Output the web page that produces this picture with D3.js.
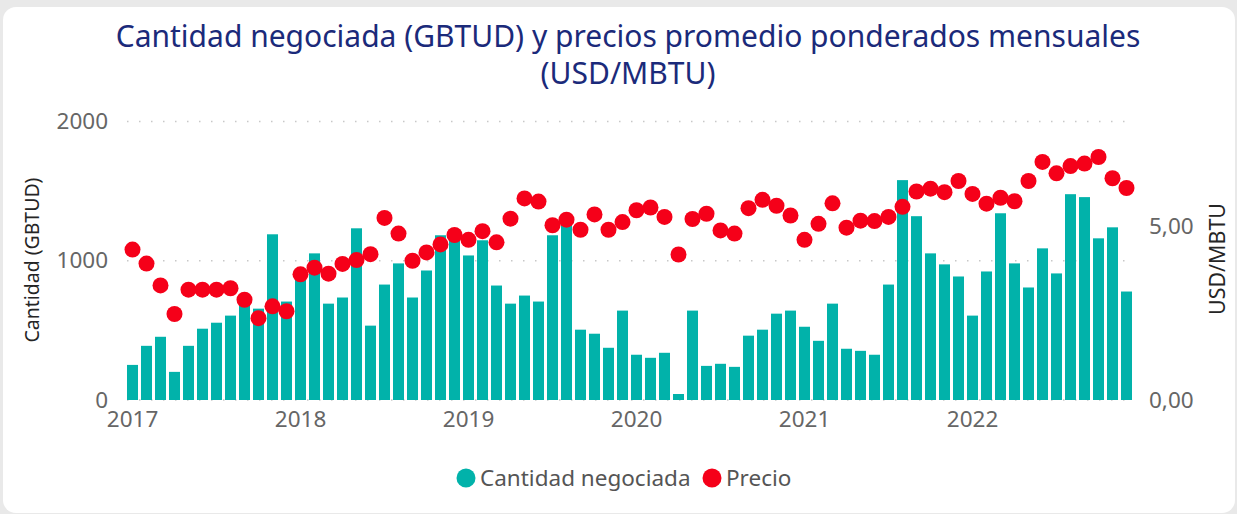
<!DOCTYPE html>
<html>
<head>
<meta charset="utf-8">
<script src="https://cdn.jsdelivr.net/npm/d3@7"></script>
<style>
  html, body { margin: 0; padding: 0; background: #e9e9e9; }
  svg { display: block; font-family: "Segoe UI", "Noto Sans", sans-serif; }
</style>
</head>
<body>
<svg id="chart" width="1237" height="514"></svg>
<script>
// categories
const years = [2017, 2018, 2019, 2020, 2021, 2022];
const monthsPerYear = 12;

// Cantidad negociada (GBTUD), one value per month
const cantidad = [
  252, 389, 454, 202, 389, 512, 555, 606, 690, 656, 1190, 707,
  882, 1053, 692, 736, 1233, 534, 829, 981, 736, 930, 1183, 1165,
  1038, 1147, 822, 692, 750, 707, 1183, 1275, 505, 476, 375, 642,
  325, 303, 339, 43, 642, 245, 260, 238, 462, 505, 620, 642,
  526, 425, 692, 368, 353, 325, 829, 1579, 1320, 1053, 974, 887,
  606, 923, 1341, 981, 808, 1089, 909, 1478, 1457, 1161, 1240, 779
];

// Precio (USD/MBTU)
const precio = [
  4.32, 3.92, 3.29, 2.47, 3.17, 3.17, 3.17, 3.21, 2.88, 2.35, 2.69, 2.55,
  3.61, 3.80, 3.63, 3.91, 4.02, 4.19, 5.23, 4.78, 4.00, 4.24, 4.47, 4.74,
  4.60, 4.85, 4.53, 5.21, 5.79, 5.70, 5.02, 5.18, 4.89, 5.33, 4.89, 5.11,
  5.45, 5.53, 5.26, 4.18, 5.20, 5.35, 4.87, 4.78, 5.51, 5.75, 5.58, 5.30,
  4.60, 5.06, 5.65, 4.95, 5.15, 5.14, 5.26, 5.55, 5.99, 6.07, 5.97, 6.29,
  5.92, 5.64, 5.81, 5.71, 6.29, 6.84, 6.51, 6.72, 6.79, 6.98, 6.37, 6.09
];

const leftTicks = [0, 1000, 2000];
const rightTicks = [0, 5];
const legendItems = ["Cantidad negociada", "Precio"];

const teal = "#01b2aa";
const red = "#f50019";
const tickFont = 22.5;

// month keys like "2017-1"
const months = [];
years.forEach(y => { for (let m = 1; m <= monthsPerYear; m++) months.push(y + "-" + m); });

const svg = d3.select("#chart");

// shrink/grow a text's font so it spans the width seen in the picture
function fitWidth(sel, target) {
  const fs = +sel.attr("font-size");
  const len = sel.node().getComputedTextLength();
  sel.attr("font-size", fs * target / len);
}

// card
svg.append("rect")
  .attr("x", 3).attr("y", 7).attr("width", 1232).attr("height", 506)
  .attr("rx", 13).attr("fill", "#fff");

// title
const title = svg.append("text")
  .attr("text-anchor", "middle").attr("fill", "#1b2a7a").attr("font-size", 30);
title.append("tspan").attr("x", 628).attr("y", 47)
  .text("Cantidad negociada (GBTUD) y precios promedio ponderados mensuales");
title.append("tspan").attr("x", 628).attr("y", 84).text("(USD/MBTU)");
const w = title.select("tspan").node().getComputedTextLength();
title.attr("font-size", 30 * 1025 / w);

// scales
const x = d3.scaleBand().domain(months).range([125.5, 1133.5])
  .paddingInner(0.214).paddingOuter(0.107);
const yL = d3.scaleLinear().domain([0, 2000]).range([400, 121.5]);
const yR = d3.scaleLinear().domain([0, 8]).range([400, 121.5]);

// gridlines
svg.append("g").selectAll("line").data(leftTicks).join("line")
  .attr("x1", 127).attr("x2", 1128)
  .attr("y1", d => yL(d)).attr("y2", d => yL(d))
  .attr("stroke", "#c8c8c8").attr("stroke-width", 1.5)
  .attr("stroke-dasharray", "1.5,10.5");

// left axis
const axL = svg.append("g").attr("transform", "translate(108,0)")
  .call(d3.axisLeft(yL).tickValues(leftTicks).tickSize(0).tickPadding(0).tickFormat(d3.format("d")));
axL.select(".domain").remove();
axL.selectAll("text").attr("font-size", tickFont).attr("fill", "#666")
  .attr("font-family", "'Segoe UI', 'Noto Sans', sans-serif");

// right axis
const axR = svg.append("g").attr("transform", "translate(1149,0)")
  .call(d3.axisRight(yR).tickValues(rightTicks).tickSize(0).tickPadding(0)
    .tickFormat(d => d3.format(".2f")(d).replace(".", ",")));
axR.select(".domain").remove();
axR.selectAll("text").attr("font-size", tickFont).attr("fill", "#666")
  .attr("font-family", "'Segoe UI', 'Noto Sans', sans-serif");

// x axis: year labels on january
const axX = svg.append("g").attr("transform", "translate(0,411)")
  .call(d3.axisBottom(x).tickValues(years.map(y => y + "-1")).tickSize(0).tickPadding(0)
    .tickFormat(d => d.split("-")[0]));
axX.select(".domain").remove();
axX.selectAll("text").attr("font-size", tickFont).attr("fill", "#666")
  .attr("font-family", "'Segoe UI', 'Noto Sans', sans-serif");

// axis titles
const tL = svg.append("text")
  .attr("transform", "translate(39,260) rotate(-90)")
  .attr("text-anchor", "middle").attr("font-size", 17).attr("fill", "#252525")
  .text("Cantidad (GBTUD)");
fitWidth(tL, 165);
const tR = svg.append("text")
  .attr("transform", "translate(1225,259) rotate(-90)")
  .attr("text-anchor", "middle").attr("font-size", 18).attr("fill", "#252525")
  .text("USD/MBTU");
fitWidth(tR, 112);

// bars
svg.append("g").selectAll("rect").data(cantidad).join("rect")
  .attr("x", (d, i) => x(months[i]))
  .attr("y", d => yL(d))
  .attr("width", x.bandwidth())
  .attr("height", d => yL(0) - yL(d))
  .attr("fill", teal);

// price markers
svg.append("g").selectAll("circle").data(precio).join("circle")
  .attr("cx", (d, i) => x(months[i]) + x.bandwidth() / 2)
  .attr("cy", d => yR(d))
  .attr("r", 8)
  .attr("fill", red);

// legend
const legend = svg.append("g").attr("transform", "translate(0,478)");
const lx = [466, 712];
legendItems.forEach((name, i) => {
  legend.append("circle").attr("cx", lx[i]).attr("cy", 0).attr("r", 9.5)
    .attr("fill", i === 0 ? teal : red);
  legend.append("text").attr("x", lx[i] + 14).attr("y", 8)
    .attr("font-size", tickFont).attr("fill", "#555").text(name);
});
</script>
</body>
</html>
